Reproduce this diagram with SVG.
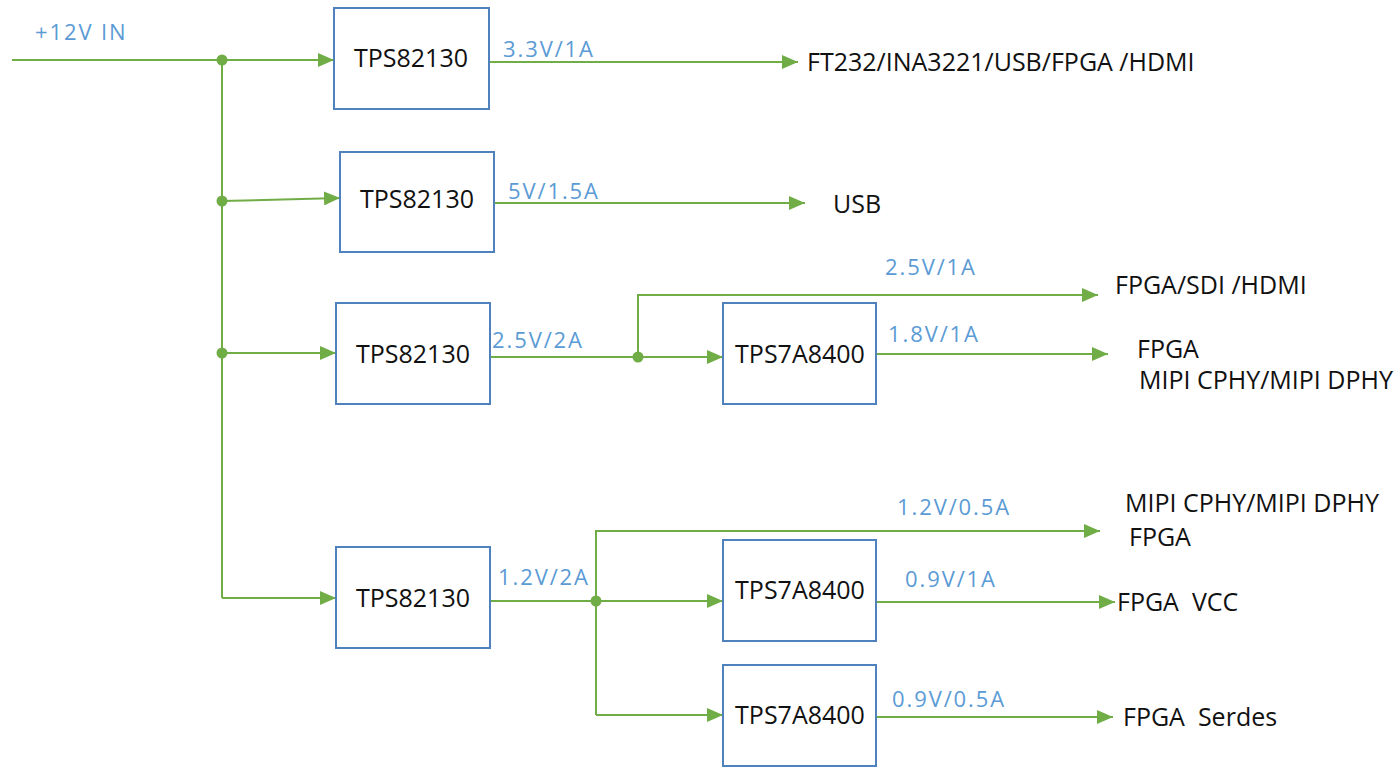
<svg xmlns="http://www.w3.org/2000/svg" width="1400" height="768" viewBox="0 0 1400 768">
<style>
.bg{fill:#ffffff}
.box{fill:#ffffff;stroke:#4f81bd;stroke-width:2}
.w{fill:none;stroke:#70ad47;stroke-width:2}
.dot{fill:#70ad47}
.t{font-family:"Open Sans","Liberation Sans",sans-serif;font-size:25px;fill:#111111;white-space:pre}
.v{font-family:"Open Sans","Liberation Sans",sans-serif;font-size:22px;letter-spacing:1.9px;fill:#5b9bd5}
</style>
<defs>
<marker id="ah" markerUnits="userSpaceOnUse" markerWidth="16" markerHeight="14" refX="16" refY="7" orient="auto">
<path d="M0,0 L16,7 L0,14 Z" fill="#70ad47"/>
</marker>
</defs>
<rect class="bg" x="0" y="0" width="1400" height="768"/>
<g id="connectors">
<line class="w" x1="12" y1="60" x2="334" y2="60" marker-end="url(#ah)"/>
<line class="w" x1="222" y1="60" x2="222" y2="598"/>
<line class="w" x1="222" y1="201" x2="340" y2="198" marker-end="url(#ah)"/>
<line class="w" x1="222" y1="353" x2="336" y2="353" marker-end="url(#ah)"/>
<polyline class="w" points="222,598 336,598" marker-end="url(#ah)"/>
<line class="w" x1="489" y1="62" x2="798" y2="62" marker-end="url(#ah)"/>
<line class="w" x1="494" y1="203" x2="805" y2="203" marker-end="url(#ah)"/>
<line class="w" x1="490" y1="357" x2="723" y2="357" marker-end="url(#ah)"/>
<polyline class="w" points="638,357 638,295 1098,295" marker-end="url(#ah)"/>
<line class="w" x1="876" y1="354" x2="1108" y2="354" marker-end="url(#ah)"/>
<line class="w" x1="490" y1="601" x2="723" y2="601" marker-end="url(#ah)"/>
<polyline class="w" points="596,715 596,531 1100,531" marker-end="url(#ah)"/>
<line class="w" x1="596" y1="715" x2="723" y2="715" marker-end="url(#ah)"/>
<line class="w" x1="876" y1="602" x2="1115" y2="602" marker-end="url(#ah)"/>
<line class="w" x1="876" y1="717" x2="1113" y2="717" marker-end="url(#ah)"/>
<circle class="dot" cx="222" cy="60" r="5.5"/>
<circle class="dot" cx="222" cy="201" r="5.5"/>
<circle class="dot" cx="222" cy="353" r="5.5"/>
<circle class="dot" cx="638" cy="357" r="5.5"/>
<circle class="dot" cx="596" cy="601" r="5.5"/>
</g>
<g id="labels">
<text class="v" x="35" y="40">+12V IN</text>
<text class="v" x="503" y="57">3.3V/1A</text>
<text class="v" x="508" y="199">5V/1.5A</text>
<text class="v" x="885" y="275">2.5V/1A</text>
<text class="v" x="492" y="348">2.5V/2A</text>
<text class="v" x="888" y="342">1.8V/1A</text>
<text class="v" x="897" y="515">1.2V/0.5A</text>
<text class="v" x="498" y="585">1.2V/2A</text>
<text class="v" x="905" y="587">0.9V/1A</text>
<text class="v" x="892" y="707">0.9V/0.5A</text>
</g>
<g id="n1"><rect class="box" x="334" y="8" width="155" height="101"/><text class="t" x="411" y="67" text-anchor="middle">TPS82130</text></g>
<g id="n2"><rect class="box" x="340" y="152" width="154" height="100"/><text class="t" x="417" y="208" text-anchor="middle">TPS82130</text></g>
<g id="n3"><rect class="box" x="336" y="303" width="154" height="101"/><text class="t" x="413" y="363" text-anchor="middle">TPS82130</text></g>
<g id="n4"><rect class="box" x="336" y="547" width="154" height="101"/><text class="t" x="413" y="607" text-anchor="middle">TPS82130</text></g>
<g id="n5"><rect class="box" x="723" y="303" width="153" height="101"/><text class="t" x="800" y="363" text-anchor="middle">TPS7A8400</text></g>
<g id="n6"><rect class="box" x="723" y="540" width="153" height="101"/><text class="t" x="800" y="599" text-anchor="middle">TPS7A8400</text></g>
<g id="n7"><rect class="box" x="723" y="665" width="153" height="101"/><text class="t" x="800" y="724" text-anchor="middle">TPS7A8400</text></g>
<g id="o1"><text class="t" x="807" y="71">FT232/INA3221/USB/FPGA /HDMI</text></g>
<g id="o2"><text class="t" x="833" y="213">USB</text></g>
<g id="o3"><text class="t" x="1115" y="294">FPGA/SDI /HDMI</text></g>
<g id="o4"><text class="t" x="1137" y="358">FPGA</text><text class="t" x="1139" y="389">MIPI CPHY/MIPI DPHY</text></g>
<g id="o5"><text class="t" x="1125" y="512">MIPI CPHY/MIPI DPHY</text><text class="t" x="1129" y="546">FPGA</text></g>
<g id="o6"><text class="t" x="1117" y="611">FPGA  VCC</text></g>
<g id="o7"><text class="t" x="1123" y="726">FPGA  Serdes</text></g>
</svg>
